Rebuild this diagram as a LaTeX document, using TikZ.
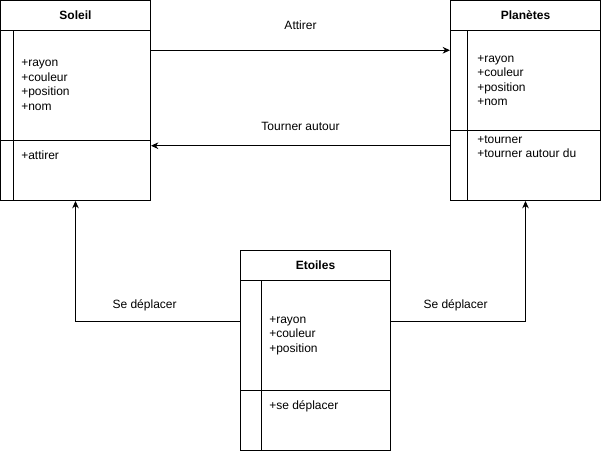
\documentclass[tikz,border=0pt]{standalone}
\usepackage{fontspec}
\setmainfont{Liberation Sans}
\usetikzlibrary{arrows.meta,positioning,calc}

\begin{document}
\begin{tikzpicture}[x=0.75pt, y=-0.75pt,
  every node/.style={font=\fontsize{9}{10.9}\selectfont},
  classe/.style={draw, line width=0.75pt, minimum width=112.5pt,
                 minimum height=150pt, inner sep=0pt},
  titre/.style={font=\fontsize{9}{10.9}\selectfont\bfseries},
  membres/.style={anchor=west, align=left, inner sep=0pt},
  trait/.style={line width=0.75pt},
  fleche/.style={-{Stealth[length=5.5pt,width=5pt]}, line width=0.75pt},
  lbl/.style={inner sep=0pt},
]
\useasboundingbox (0,0) rectangle (601,451);
% Classes
\node[classe] (soleil)   at (75.5,100.5)  {};
\node[classe] (planetes) at (525.5,100.5) {};
\node[classe] (etoiles)  at (315.5,350.5) {};
% Titres
\node[titre] (soleilT)   at ($(soleil.north)+(0,15)$)   {Soleil};
\node[titre] (planetesT) at ($(planetes.north)+(0,15)$) {Planètes};
\node[titre] (etoilesT)  at ($(etoiles.north)+(0,15)$)  {Etoiles};
% Compartiments
\draw[trait] ($(soleil.north west)+(0,30)$) -- ($(soleil.north east)+(0,30)$);
\draw[trait] ($(soleil.north west)+(0,140)$) -- ($(soleil.north east)+(0,140)$);
\draw[trait] ($(soleil.north west)+(13,30)$) -- ($(soleil.south west)+(13,0)$);
\draw[trait] ($(planetes.north west)+(0,30)$) -- ($(planetes.north east)+(0,30)$);
\draw[trait] ($(planetes.north west)+(0,130)$) -- ($(planetes.north east)+(0,130)$);
\draw[trait] ($(planetes.north west)+(17.5,30)$) -- ($(planetes.south west)+(17.5,0)$);
\draw[trait] ($(etoiles.north west)+(0,30)$) -- ($(etoiles.north east)+(0,30)$);
\draw[trait] ($(etoiles.north west)+(0,140)$) -- ($(etoiles.north east)+(0,140)$);
\draw[trait] ($(etoiles.north west)+(21,30)$) -- ($(etoiles.south west)+(21,0)$);
% Attributs et méthodes
\node[membres] (soleilA)   at ($(soleil.north west)+(21,85)$)    {+rayon\\+couleur\\+position\\+nom};
\node[membres] (soleilM)   at ($(soleil.north west)+(21,155)$)   {+attirer};
\node[membres] (planetesA) at ($(planetes.north west)+(27,80.5)$) {+rayon\\+couleur\\+position\\+nom};
\node[membres] (planetesM) at ($(planetes.north west)+(27,146.5)$) {+tourner\\+tourner autour du};
\node[membres] (etoilesA)  at ($(etoiles.north west)+(29,85.5)$)  {+rayon\\+couleur\\+position};
\node[membres] (etoilesM)  at ($(etoiles.north west)+(29,156)$)   {+se déplacer};
% Associations
\draw[fleche] ($(soleil.north east)!0.25!(soleil.south east)$)
  -- node[lbl, above=15pt]{Attirer} ($(planetes.north west)!0.25!(planetes.south west)$);
\draw[fleche] ($(planetes.north west)!0.725!(planetes.south west)$)
  -- node[lbl, above=11pt]{Tourner autour} ($(soleil.north east)!0.725!(soleil.south east)$);
\draw[fleche] ($(etoiles.north west)!0.355!(etoiles.south west)$)
  -| node[lbl, above=7.5pt, pos=0.29]{Se déplacer} (soleil.south);
\draw[fleche] ($(etoiles.north east)!0.355!(etoiles.south east)$)
  -| node[lbl, above=7.5pt, pos=0.24]{Se déplacer} (planetes.south);
\end{tikzpicture}
\end{document}
